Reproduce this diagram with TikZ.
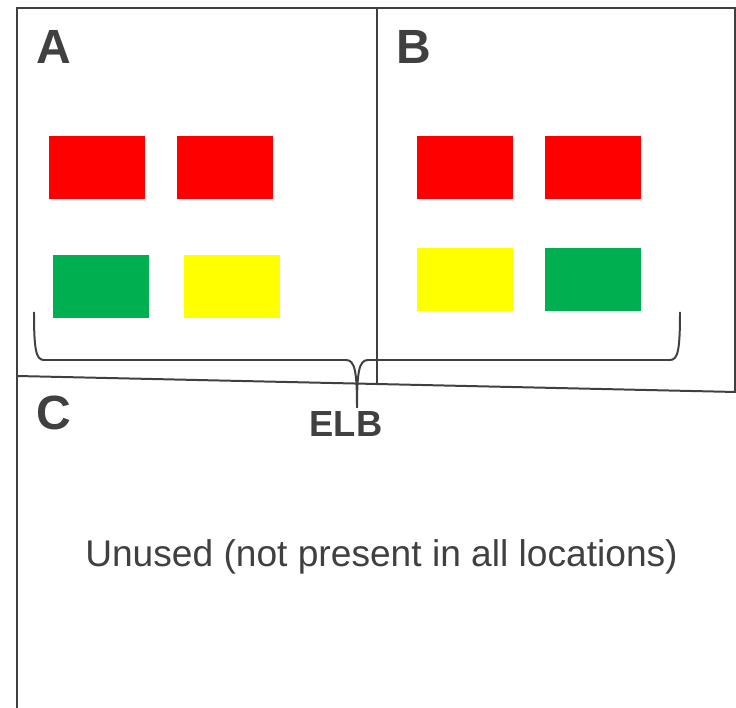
\documentclass[tikz,border=0pt]{standalone}
\usepackage{fontspec}
\setmainfont{Liberation Sans}
\usepackage{xcolor}
\usetikzlibrary{positioning, calc}

\definecolor{edgegray}{HTML}{404040}
\definecolor{slotred}{HTML}{FF0000}
\definecolor{slotgreen}{HTML}{00B050}
\definecolor{slotyellow}{HTML}{FFFF00}

\begin{document}
\begin{tikzpicture}[
    x=0.3mm, y=-0.3mm,
    frame/.style={draw=edgegray, line width=1.7pt},
    slot/.style={rectangle, minimum width=28.8mm, minimum height=18.9mm, inner sep=0},
    bay/.style={font=\fontsize{41}{49}\selectfont\bfseries, text=edgegray, inner sep=0, anchor=base},
    every node/.style={text=edgegray}
]
    \useasboundingbox (0,0) rectangle (736,708);

    % ===============================
    % 1. FRAME
    % ===============================
    \coordinate (tl) at (17, 8);
    \coordinate (tr) at (736, 8);
    \coordinate (tm) at (377, 8);
    \coordinate (bl) at (17, 708);
    \coordinate (sl) at (17, 376);
    \coordinate (sr) at (736, 392);
    \coordinate (sm) at (377, 384);
    \coordinate (rt) at (735, 8);
    \coordinate (rb) at (735, 392);

    \draw[frame, line cap=rect] (tl) -- (tr);
    \draw[frame] (tl) -- (bl);
    \draw[frame] (tm) -- (sm);
    \draw[frame] (rt) -- (rb);
    \draw[frame] (sl) -- (sr);

    % ===============================
    % 2. BAY LABELS
    % ===============================
    \node[bay] (bayA) at (54, 64) {A};
    \node[bay] (bayB) at (414, 64) {B};
    \node[bay] (bayC) at (54, 430) {C};

    % ===============================
    % 3. SLOTS
    % ===============================
    % bay A
    \node[slot, fill=slotred] (a1) at (97, 167.5) {};
    \node[slot, fill=slotred] (a2) at (225, 167.5) {};
    \node[slot, fill=slotgreen] (a3) at (101, 286.5) {};
    \node[slot, fill=slotyellow] (a4) at (232, 287) {};

    % bay B
    \node[slot, fill=slotred] (b1) at (465, 167.5) {};
    \node[slot, fill=slotred] (b2) at (593, 167.5) {};
    \node[slot, fill=slotyellow] (b3) at (465, 279.5) {};
    \node[slot, fill=slotgreen] (b4) at (593, 279.5) {};

    % ===============================
    % 4. ELB BRACE
    % ===============================
    \coordinate (brl) at (34, 312);
    \coordinate (brr) at (680, 312);
    \coordinate (tip) at (357, 408);

    \draw[frame] (brl) .. controls (34, 350) and (36, 360) .. (44, 360)
        -- (346, 360) .. controls (355, 360) and (357, 372) .. (tip)
        .. controls (357, 372) and (359, 360) .. (368, 360)
        -- (670, 360) .. controls (678, 360) and (680, 350) .. (brr);

    \node[font=\fontsize{31}{37}\selectfont\bfseries, inner sep=0, anchor=base] (elb) at (346, 437) {ELB};

    % ===============================
    % 5. UNUSED AREA
    % ===============================
    \node[font=\fontsize{31.7}{38}\selectfont, inner sep=0, anchor=base] (unused) at (381.5, 567) {Unused (not present in all locations)};

\end{tikzpicture}
\end{document}
